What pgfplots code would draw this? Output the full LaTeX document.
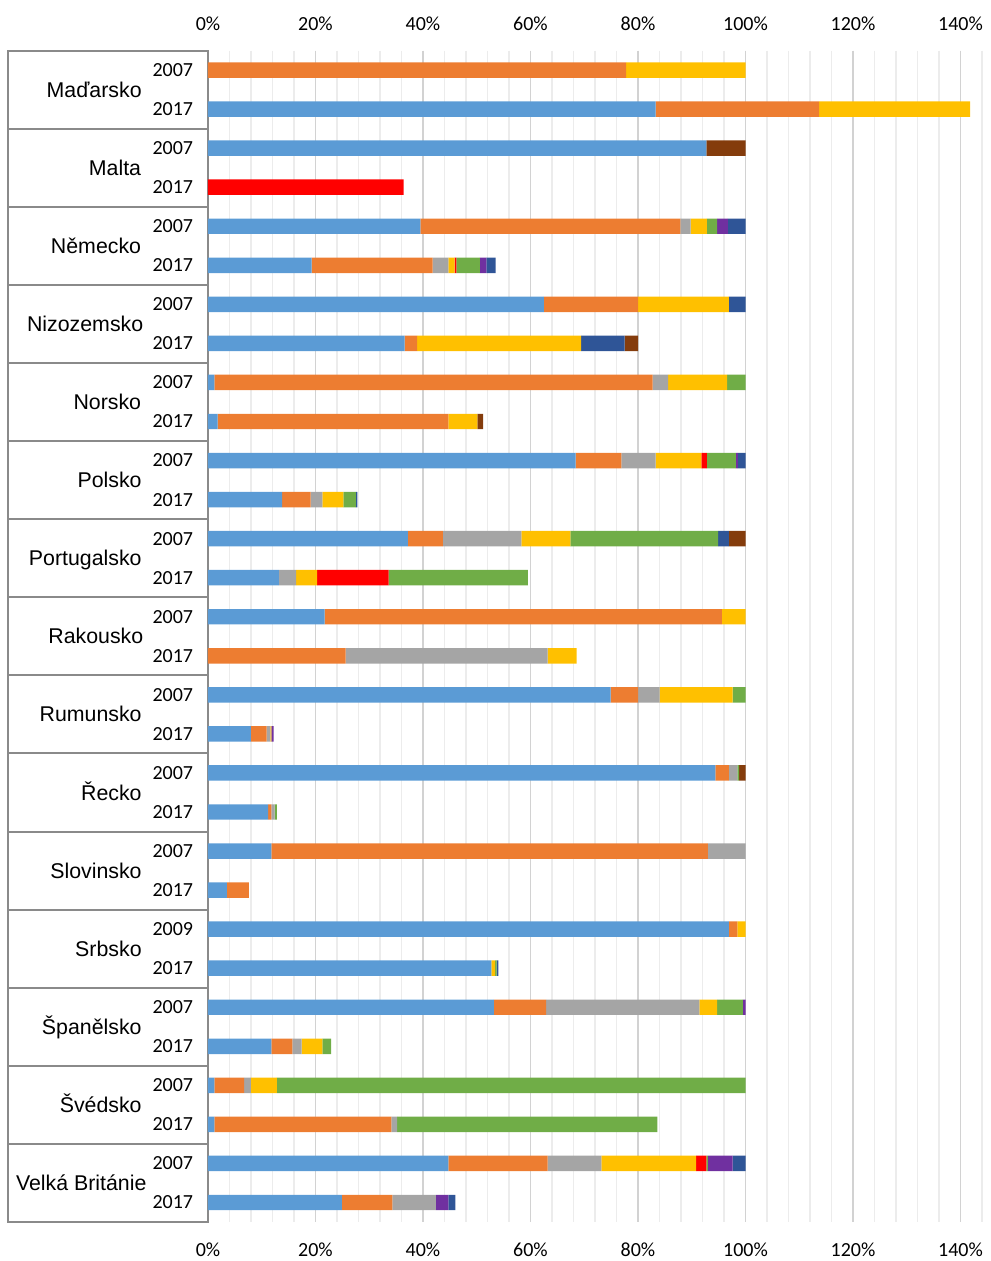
\documentclass[border=0pt]{standalone}
\usepackage{pgfplots}
\pgfplotsset{compat=1.18}
\usepackage{pgfplotstable}
\usepackage{fontspec}
\setmainfont{Liberation Sans}
\newfontfamily\numfont{Carlito}

\definecolor{cBlue}{HTML}{5B9BD5}
\definecolor{cOrange}{HTML}{ED7D31}
\definecolor{cGray}{HTML}{A5A5A5}
\definecolor{cYellow}{HTML}{FFC000}
\definecolor{cRed}{HTML}{FF0000}
\definecolor{cGreen}{HTML}{70AD47}
\definecolor{cPurple}{HTML}{7030A0}
\definecolor{cNavy}{HTML}{2F5597}
\definecolor{cBrown}{HTML}{843C0C}
\definecolor{gridMajor}{HTML}{D2D2D2}
\definecolor{gridMinor}{HTML}{ECECEC}
\definecolor{boxLine}{HTML}{8A8A8A}

% shares (in %) of each component, one row per country and year
\pgfplotstableread{
idx blue orange gray yellow red green purple navy brown
0   0    77.8   0    22.2   0    0    0    0    0
1   83.3 30.4   0    28.1   0    0    0    0    0
2   92.7 0      0    0      0    0    0    0    7.3
3   0    0      0    0      36.4 0    0    0    0
4   39.5 48.4   1.9  3.0    0    1.9  2.0  3.3  0
5   19.3 22.5   2.9  1.2    0.3  4.4  1.2  1.7  0
6   62.5 17.5   0    16.9   0    0    0    3.1  0
7   36.6 2.3    0    30.5   0    0    0    8.1  2.5
8   1.2  81.5   2.9  11.0   0    3.4  0    0    0
9   1.8  42.9   0    5.4    0    0    0    0    1.1
10  68.4 8.5    6.4  8.5    1.0  5.4  0.4  1.4  0
11  13.8 5.3    2.2  3.9    0    2.3  0    0.3  0
12  37.2 6.5    14.6 9.1    0    27.5 0    2.0  3.1
13  13.2 0      3.2  3.9    13.3 25.9 0    0    0
14  21.7 73.9   0    4.4    0    0    0    0    0
15  0    25.6   37.6 5.4    0    0    0    0    0
16  74.9 5.1    4.0  13.6   0    2.4  0    0    0
17  8.0  2.9    0.7  0.2    0    0    0.4  0    0
18  94.4 2.5    1.6  0      0    0.3  0    0    1.2
19  11.2 0.6    0.6  0      0    0.4  0    0    0
20  11.8 81.2   7.0  0      0    0    0    0    0
21  3.5  4.1    0    0      0    0    0    0    0
22  96.9 1.6    0    1.5    0    0    0    0    0
23  52.7 0      0    0.7    0    0.3  0    0.3  0
24  53.2 9.7    28.5 3.3    0    4.8  0.5  0    0
25  11.8 3.9    1.7  3.9    0    1.6  0    0    0
26  1.2  5.5    1.3  4.8    0    87.2 0    0    0
27  1.2  32.9   1.1  0      0    48.4 0    0    0
28  44.7 18.5   10.0 17.6   1.9  0.3  4.6  2.4  0
29  24.9 9.4    8.1  0      0    0    2.3  1.3  0
}\shares

\newcommand\numsize{\numfont\fontsize{15}{15}\selectfont}
\newcommand\namesize{\fontsize{16}{16}\selectfont}

\pgfplotsset{
  frame/.style={
    at={(156pt,29.25pt)}, anchor=south west,
    scale only axis, width=580.5pt, height=878.6pt,
    xmin=0, xmax=144, ymin=-0.5, ymax=29.5, y dir=reverse,
    axis line style={draw=none},
    major tick length=0pt, minor tick length=0pt,
    xtick={0,20,...,140},
    xticklabels={0\%,20\%,40\%,60\%,80\%,100\%,120\%,140\%},
    xticklabel style={font=\numsize, text=black, inner sep=0pt, anchor=center},
  },
  seg/.style={fill=#1, draw=none},
}

\begin{document}
\begin{tikzpicture}
\path[use as bounding box] (0,0) rectangle (743.25pt,945.75pt);

\begin{axis}[frame,
  xbar stacked, bar width=11.6pt,
  xmajorgrids, xminorgrids, minor xtick={0,4,...,144},
  major grid style={color=gridMajor, line width=1.1pt},
  minor grid style={color=gridMinor, line width=0.8pt},
  xticklabel style={yshift=-20.5pt},
  ytick={0,...,29},
  yticklabels={2007,2017,2007,2017,2007,2017,2007,2017,2007,2017,
               2007,2017,2007,2017,2007,2017,2007,2017,2007,2017,
               2007,2017,2009,2017,2007,2017,2007,2017,2007,2017},
  yticklabel style={font=\numsize, text=black, anchor=east, inner sep=0pt, xshift=-11pt},
  clip=false,
]
\addplot[seg=cBlue]   table[x=blue,   y=idx] {\shares};
\addplot[seg=cOrange] table[x=orange, y=idx] {\shares};
\addplot[seg=cGray]   table[x=gray,   y=idx] {\shares};
\addplot[seg=cYellow] table[x=yellow, y=idx] {\shares};
\addplot[seg=cRed]    table[x=red,    y=idx] {\shares};
\addplot[seg=cGreen]  table[x=green,  y=idx] {\shares};
\addplot[seg=cPurple] table[x=purple, y=idx] {\shares};
\addplot[seg=cNavy]   table[x=navy,   y=idx] {\shares};
\addplot[seg=cBrown]  table[x=brown,  y=idx] {\shares};

% category box on the left
\draw[boxLine, line width=1.5pt] (axis cs:-37.2,-0.5) rectangle (axis cs:0,29.5);
\pgfplotsinvokeforeach{1.5,3.5,5.5,7.5,9.5,11.5,13.5,15.5,17.5,19.5,21.5,23.5,25.5,27.5}{
  \draw[boxLine, line width=1.5pt] (axis cs:-37.2,#1) -- (axis cs:0,#1);
}
\tikzset{country/.style={anchor=base east, yshift=-5.7pt, font=\namesize, text=black, inner sep=0pt}}
\node[country] at (axis cs:-12.3,0.5)  {Maďarsko};
\node[country] at (axis cs:-12.4,2.5)  {Malta};
\node[country] at (axis cs:-12.4,4.5)  {Německo};
\node[country] at (axis cs:-12.0,6.5)  {Nizozemsko};
\node[country] at (axis cs:-12.4,8.5)  {Norsko};
\node[country] at (axis cs:-12.3,10.5) {Polsko};
\node[country] at (axis cs:-12.3,12.5) {Portugalsko};
\node[country] at (axis cs:-12.0,14.5) {Rakousko};
\node[country] at (axis cs:-12.3,16.5) {Rumunsko};
\node[country] at (axis cs:-12.3,18.5) {Řecko};
\node[country] at (axis cs:-12.3,20.5) {Slovinsko};
\node[country] at (axis cs:-12.3,22.5) {Srbsko};
\node[country] at (axis cs:-12.3,24.5) {Španělsko};
\node[country] at (axis cs:-12.3,26.5) {Švédsko};
\node[country] at (axis cs:-11.4,28.5) {Velká Británie};
\end{axis}

% same scale again, carrying the percentage labels along the top
\begin{axis}[frame,
  xticklabel pos=upper,
  xticklabel style={yshift=20pt},
  ytick=\empty,
]
\end{axis}
\end{tikzpicture}
\end{document}
